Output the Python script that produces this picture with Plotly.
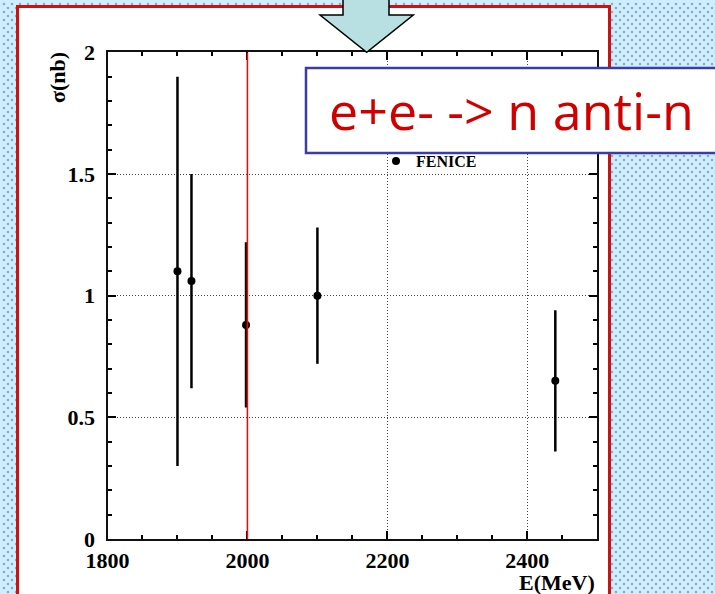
import plotly.graph_objects as go

# FENICE measurements of sigma(e+e- -> n nbar)
energy_mev = [1900, 1920, 1998, 2100, 2440]
sigma_nb = [1.10, 1.06, 0.88, 1.00, 0.65]
sigma_err = [0.80, 0.44, 0.34, 0.28, 0.29]
series_name = "FENICE"
threshold_mev = 2000

x_range = [1800, 2500]
y_range = [0, 2]

W, H = 715, 594
SKY = "#cdeefe"
DOT = "#4e6273"
PANEL_RED = "#d01010"
SERIF = "Liberation Serif"

# page geometry in pixels
panel_left, panel_top, panel_right = 17.5, 6.5, 609.5
plot_left, plot_right = 107.5, 597.3
plot_top, plot_bottom = 52.4, 539.0

fig = go.Figure()

# dotted backdrop outside the white panel: two offset dot grids give a staggered pattern
strip_x = [0, panel_left, panel_left, 0, 0, None,
           panel_left, panel_right, panel_right, panel_left, panel_left, None,
           panel_right, W + 10, W + 10, panel_right, panel_right]
strip_y = [0, 0, H + 10, H + 10, 0, None,
           0, 0, panel_top, panel_top, 0, None,
           0, 0, H + 10, H + 10, 0]
for ax in ("", "2"):
    fig.add_trace(go.Scatter(
        x=strip_x, y=strip_y, xaxis="x" + ax, yaxis="y" + ax,
        mode="none", fill="toself", fillcolor="rgba(0,0,0,0)",
        fillpattern=dict(shape=".", size=8, solidity=0.08,
                         fgcolor=DOT, bgcolor="rgba(0,0,0,0)"),
        hoverinfo="skip", showlegend=False))

# measurements
fig.add_trace(go.Scatter(
    x=energy_mev, y=sigma_nb, xaxis="x3", yaxis="y3",
    mode="markers", name=series_name,
    marker=dict(color="black", size=8),
    error_y=dict(type="data", array=sigma_err, color="black",
                 thickness=2.5, width=0),
    showlegend=True))

hidden = dict(visible=False, showgrid=False, zeroline=False, fixedrange=True,
              automargin=False)
tickfont = dict(family=SERIF, size=22, color="black", weight="bold")
common = dict(
    ticks="inside", ticklen=8, tickwidth=1.5, tickcolor="black",
    showline=True, linewidth=2, linecolor="#111", mirror="ticks",
    showgrid=True, gridcolor="#444", gridwidth=1, griddash="1px,2px",
    zeroline=False, tickfont=tickfont, automargin=False,
)

fig.update_layout(
    width=W, height=H, autosize=False,
    margin=dict(l=0, r=0, t=0, b=0, pad=0, autoexpand=False),
    paper_bgcolor=SKY, plot_bgcolor="rgba(0,0,0,0)",
    xaxis=dict(domain=[0, 1], range=[0, W], **hidden),
    yaxis=dict(domain=[0, 1], range=[H, 0], **hidden),
    xaxis2=dict(domain=[4 / W, 1], range=[4, W], **hidden),
    yaxis2=dict(domain=[0, 1 - 4 / H], range=[H, 4], **hidden),
    xaxis3=dict(domain=[plot_left / W, plot_right / W], range=x_range,
                anchor="y3", tick0=1800, dtick=200, ticklabelstandoff=1,
                minor=dict(dtick=50, ticks="inside", ticklen=4, tickwidth=1.5,
                           tickcolor="black", showgrid=False),
                **common),
    yaxis3=dict(domain=[1 - plot_bottom / H, 1 - plot_top / H], range=y_range,
                anchor="x3", tick0=0, dtick=0.5, ticklabelstandoff=6,
                minor=dict(dtick=0.1, ticks="inside", ticklen=4, tickwidth=1.5,
                           tickcolor="black", showgrid=False),
                **common),
    showlegend=True,
    legend=dict(x=376 / W, y=1 - 161 / H, xanchor="left", yanchor="middle",
                bgcolor="rgba(0,0,0,0)", borderwidth=0,
                font=dict(family=SERIF, size=16, color="black", weight="bold")),
)

# white slide panel with red frame
fig.add_shape(type="rect", xref="x", yref="y", layer="below",
              x0=panel_left, x1=panel_right, y0=panel_top, y1=H + 10,
              fillcolor="white", line=dict(width=0))
fig.add_shape(type="rect", xref="x", yref="y", layer="above",
              x0=panel_left, x1=panel_right, y0=panel_top, y1=H + 10,
              fillcolor="rgba(0,0,0,0)", line=dict(color=PANEL_RED, width=3))

# reference line at 2 GeV
fig.add_shape(type="line", xref="x3", yref="y3", layer="above",
              x0=threshold_mev, x1=threshold_mev, y0=y_range[0], y1=y_range[1],
              line=dict(color="#ff0000", width=1.5))

# downward arrow pointing at the plot
fig.add_shape(type="path", xref="x", yref="y", layer="above",
              path="M343,-3 L343,15 L320,15 L366.7,52.3 L413.3,15 L389,15 L389,-3 Z",
              fillcolor="#b8dfe1", line=dict(color="black", width=1.5))

# reaction label box
fig.add_shape(type="rect", xref="x", yref="y", layer="above",
              x0=306, x1=W + 10, y0=68, y1=153,
              fillcolor="white", line=dict(color="#3c3ca6", width=2.5))
fig.add_annotation(xref="x", yref="y", x=511, y=109, showarrow=False,
                   text="e+e- -> n anti-n",
                   font=dict(family="Open Sans", size=52, color="#d10000"))

# axis titles
fig.add_annotation(xref="x", yref="y", x=57.5, y=77.5, showarrow=False,
                   text="σ(nb)", textangle=-90,
                   font=dict(family=SERIF, size=22, color="black", weight="bold"))
fig.add_annotation(xref="x", yref="y", x=plot_right, y=582, showarrow=False,
                   xanchor="right", yanchor="middle", text="E(MeV)",
                   font=dict(family=SERIF, size=22, color="black", weight="bold"))

fig.write_html("out.html")
